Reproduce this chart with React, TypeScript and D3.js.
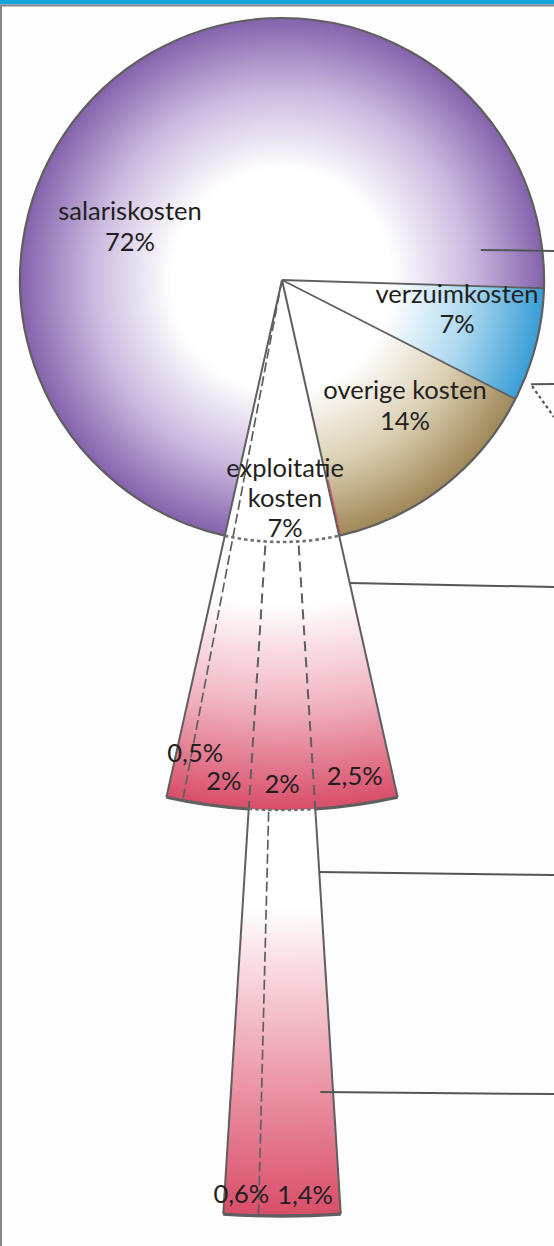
import React from 'react';
import * as d3 from 'd3';

const W = 554;
const H = 1246;

// ---- data ----
const mainCategories = ['salariskosten', 'verzuimkosten', 'overige kosten', 'exploitatie kosten'];
const mainCategoryLines = [['salariskosten'], ['verzuimkosten'], ['overige kosten'], ['exploitatie', 'kosten']];
const mainValues = [72, 7, 14, 7];
const mainValueLabels = ['72%', '7%', '14%', '7%'];

const exploitatieValues = [0.5, 2, 2, 2.5];
const exploitatieLabels = ['0,5%', '2%', '2%', '2,5%'];

const detailValues = [0.6, 1.4];
const detailLabels = ['0,6%', '1,4%'];
const detailParentIndex = 2;

// ---- layout ----
const CX = 282;
const CY = 280;
const R_PIE = 262;
const R_CONE1 = 530;
const R_CONE2 = 936;
const FONT = "Lato, 'Noto Sans', sans-serif";
const FS = 25.5;
const INK = '#231f20';
const LINE = '#5f5f5f';

const mainLabelLayout = [
  { x: 130, y: 220, lh: 31 },
  { x: 457, y: 303, lh: 30 },
  { x: 405, y: 399, lh: 31 },
  { x: 285, y: 477, lh: 30 },
];
const subLabelLayout = [
  { nudge: 1.5, r: 490 },
  { nudge: 0.7, r: 513 },
  { nudge: 0, r: 513 },
  { nudge: 0.1, r: 510 },
];
const detailLabelLayout = [
  { nudge: 0, r: 924 },
  { nudge: 0.35, r: 924 },
];
const gradientStops: [number, string][][] = [
  [[0, '#ffffff'], [0.42, '#ffffff'], [0.72, '#cbbadf'], [1, '#8462ac']],
  [[0, '#ffffff'], [0.42, '#ffffff'], [0.72, '#acd8ef'], [1, '#389dd5']],
  [[0, '#ffffff'], [0.42, '#ffffff'], [0.72, '#dbcfb3'], [1, '#9f8858']],
];
const cone1Stops: [number, string][] = [[0, '#ffffff'], [0.61, '#ffffff'], [0.8, '#f1b5c2'], [1, '#d84d68']];
const cone2Stops: [number, string][] = [[0, '#ffffff'], [0.67, '#ffffff'], [0.86, '#eb96a7'], [1, '#d84d68']];

const deg = Math.PI / 180;
const pt = (a: number, r: number): [number, number] => [CX + r * Math.sin(a), CY - r * Math.cos(a)];
const radial = (a: number, r0: number, r1: number) => {
  const [x0, y0] = pt(a, r0);
  const [x1, y1] = pt(a, r1);
  return `M${x0},${y0}L${x1},${y1}`;
};
const arcPath = (r: number, a0: number, a1: number) => {
  const p = d3.path();
  const [x0, y0] = pt(a0, r);
  p.moveTo(x0, y0);
  p.arc(CX, CY, r, a0 - Math.PI / 2, a1 - Math.PI / 2, a1 < a0);
  return p.toString();
};

// callouts: start in polar coords (d3 angle deg, radius), end y at right edge
const callouts = [
  { a: 81.4, r: 201, y: 251 },
  { a: 112.7, r: 270, y: 384, dotted: 417 },
  { a: 0, r: 0, y: 587, edge: 'cone1' },
  { a: 0, r: 0, y: 875, edge: 'cone2' },
  { a: 177.3, r: 813, y: 1094 },
];

export default function App() {
  const total = d3.sum(mainValues);
  const expIdx = 3;
  const before = d3.sum(mainValues.slice(0, expIdx));
  const start = Math.PI - (2 * Math.PI * (before + mainValues[expIdx] / 2)) / total;
  const slices = d3.pie<number>().sort(null).value((d) => d).startAngle(start).endAngle(start + 2 * Math.PI)(mainValues);
  const exp = slices[expIdx];
  // sub pieces from screen-left to screen-right
  const sub = d3.pie<number>().sort(null).value((d) => d).startAngle(exp.endAngle).endAngle(exp.startAngle)(exploitatieValues);
  const parent = sub[detailParentIndex];
  const detail = d3.pie<number>().sort(null).value((d) => d).startAngle(parent.startAngle).endAngle(parent.endAngle)(detailValues);

  const pieArc = d3.arc<any>().innerRadius(0).outerRadius(R_PIE);
  const cone1Arc = d3.arc<any>().innerRadius(0).outerRadius(R_CONE1);
  const cone2Arc = d3.arc<any>().innerRadius(R_CONE1).outerRadius(R_CONE2);

  const leftA = exp.endAngle;
  const rightA = exp.startAngle;
  const pL = parent.startAngle;
  const pR = parent.endAngle;

  const calloutStart = (c: any): [number, number] => {
    if (c.edge === 'cone1') {
      const dy = c.y - 4 - CY;
      const r = dy / -Math.cos(rightA);
      return pt(rightA, r);
    }
    if (c.edge === 'cone2') {
      const dy = c.y - 3 - CY;
      const r = dy / -Math.cos(pR);
      return pt(pR, r);
    }
    return pt(c.a * deg, c.r);
  };

  return (
    <svg width={W} height={H} style={{ position: 'absolute', left: 0, top: 0, background: '#fdfdfd' }}>
      <defs>
        {gradientStops.map((stops, i) => (
          <radialGradient key={i} id={`g${i}`} gradientUnits="userSpaceOnUse" cx={0} cy={0} r={R_PIE}>
            {stops.map(([o, c], j) => <stop key={j} offset={o} stopColor={c} />)}
          </radialGradient>
        ))}
        <radialGradient id="cone1" gradientUnits="userSpaceOnUse" cx={0} cy={0} r={R_CONE1}>
          {cone1Stops.map(([o, c], j) => <stop key={j} offset={o} stopColor={c} />)}
        </radialGradient>
        <radialGradient id="cone2" gradientUnits="userSpaceOnUse" cx={0} cy={0} r={R_CONE2}>
          {cone2Stops.map(([o, c], j) => <stop key={j} offset={o} stopColor={c} />)}
        </radialGradient>
      </defs>
      <rect x={0} y={0} width={W} height={H} fill="#fdfdfd" />
      {/* frame */}
      <rect x={0} y={0} width={W} height={4.5} fill="#12a4d6" />
      <line x1={0} x2={W} y1={5.5} y2={5.5} stroke="#858585" strokeWidth={2} />
      <line x1={1} x2={1} y1={5} y2={H} stroke="#858585" strokeWidth={2} />

      <g transform={`translate(${CX},${CY})`}>
        {slices.slice(0, 3).map((s, i) => (
          <path key={mainCategories[i]} d={pieArc(s) as string} fill={`url(#g${i})`} />
        ))}
        <path d={cone1Arc({ startAngle: rightA, endAngle: leftA }) as string} fill="url(#cone1)" />
        <path d={cone2Arc({ startAngle: pR, endAngle: pL }) as string} fill="url(#cone2)" />
      </g>

      {/* pie outline (except exploitatie) */}
      <path d={arcPath(R_PIE, leftA, rightA + 2 * Math.PI)} fill="none" stroke={LINE} strokeWidth={2.2} />
      {/* slice boundaries */}
      {[slices[1].startAngle, slices[2].startAngle].map((a, i) => (
        <path key={i} d={radial(a, 0, R_PIE)} stroke={LINE} strokeWidth={1.8} fill="none" />
      ))}
      {/* red hint along exploitatie right edge */}
      <path d={radial(rightA - 0.4 * deg, 205, R_PIE - 2)} stroke="#e0506a" strokeWidth={1.2} fill="none" />
      {/* cone 1 edges */}
      <path d={radial(leftA, 0, R_CONE1)} stroke={LINE} strokeWidth={2} fill="none" />
      <path d={radial(rightA, 0, R_CONE1)} stroke={LINE} strokeWidth={2} fill="none" />
      {/* sub-division lines */}
      <path d={radial(sub[1].startAngle, 0, R_CONE1)} stroke={LINE} strokeWidth={1.7} strokeDasharray="10 4" fill="none" />
      <path d={radial(pL, R_PIE + 4, R_CONE1)} stroke={LINE} strokeWidth={2} strokeDasharray="10 6" fill="none" />
      <path d={radial(pR, R_PIE + 4, R_CONE1)} stroke={LINE} strokeWidth={2} strokeDasharray="10 6" fill="none" />
      {/* dotted arcs */}
      <path d={arcPath(R_PIE, leftA, rightA)} stroke="#707070" strokeWidth={2.6} strokeDasharray="3.5 3" fill="none" />
      <path d={arcPath(R_CONE1, pL, pR)} stroke="#707070" strokeWidth={2.6} strokeDasharray="3.5 3" fill="none" />
      {/* cone1 bottom solid parts */}
      <path d={arcPath(R_CONE1, leftA, pL)} stroke={LINE} strokeWidth={3} fill="none" />
      <path d={arcPath(R_CONE1, pR, rightA)} stroke={LINE} strokeWidth={3} fill="none" />
      {/* cone 2 */}
      <path d={radial(pL, R_CONE1, R_CONE2)} stroke={LINE} strokeWidth={2} fill="none" />
      <path d={radial(pR, R_CONE1, R_CONE2)} stroke={LINE} strokeWidth={2} fill="none" />
      <path d={radial(detail[1].startAngle, R_CONE1 + 2, R_CONE2)} stroke={LINE} strokeWidth={1.7} strokeDasharray="10 4" fill="none" />
      <path d={arcPath(R_CONE2, pL, pR)} stroke={LINE} strokeWidth={3.4} fill="none" />

      {/* callouts */}
      {callouts.map((c, i) => {
        const [x0, y0] = calloutStart(c);
        return (
          <g key={i}>
            <line x1={x0} y1={y0} x2={W} y2={c.y} stroke="#555" strokeWidth={2} />
            {c.dotted && (
              <line x1={x0 + 1} y1={y0 + 2} x2={W} y2={c.dotted} stroke="#555" strokeWidth={2.2} strokeDasharray="3 3" />
            )}
          </g>
        );
      })}

      {/* labels */}
      <g fontFamily={FONT} fontSize={FS} fill={INK} textAnchor="middle">
        {mainCategoryLines.map((lines, i) => {
          const L = mainLabelLayout[i];
          const all = [...lines, mainValueLabels[i]];
          return (
            <text key={i} x={L.x} y={L.y}>
              {all.map((t, j) => (
                <tspan key={j} x={L.x} dy={j === 0 ? 0 : L.lh}>{t}</tspan>
              ))}
            </text>
          );
        })}
        {sub.map((s, i) => {
          const L = subLabelLayout[i];
          const a = (s.startAngle + s.endAngle) / 2 - L.nudge * deg;
          const [x, y] = pt(a, L.r);
          return <text key={`s${i}`} x={x} y={y}>{exploitatieLabels[i]}</text>;
        })}
        {detail.map((s, i) => {
          const L = detailLabelLayout[i];
          const a = (s.startAngle + s.endAngle) / 2 - L.nudge * deg;
          const [x, y] = pt(a, L.r);
          return <text key={`d${i}`} x={x} y={y}>{detailLabels[i]}</text>;
        })}
      </g>
    </svg>
  );
}
